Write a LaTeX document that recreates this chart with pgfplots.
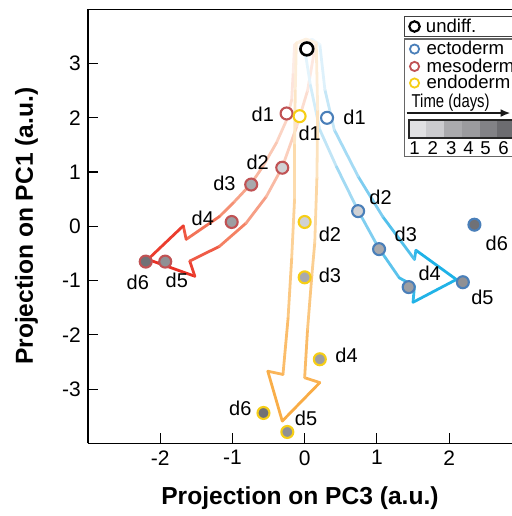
\documentclass[border=0pt]{standalone}
\usepackage{fontspec}
\setmainfont{Liberation Sans}
\usepackage{pgfplots}
\pgfplotsset{compat=1.18}
\usetikzlibrary{arrows.meta}
\definecolor{ectoE}{RGB}{74,127,185}
\definecolor{mesoE}{RGB}{192,82,84}
\definecolor{endoE}{RGB}{246,206,22}
\definecolor{g2}{RGB}{208,209,212}
\definecolor{g3}{RGB}{168,169,173}
\definecolor{g4}{RGB}{157,158,162}
\definecolor{g5}{RGB}{143,144,148}
\definecolor{g6}{RGB}{112,113,118}
\definecolor{c1}{RGB}{224,224,226}
\definecolor{c2}{RGB}{203,203,206}
\definecolor{c3}{RGB}{170,170,173}
\definecolor{c4}{RGB}{155,155,158}
\definecolor{c5}{RGB}{130,130,134}
\definecolor{c6}{RGB}{108,108,112}
\pgfplotsset{
  colormap={mesocm}{rgb255=(254,242,238) rgb255=(250,200,180) rgb255=(244,130,100) rgb255=(232,40,30)},
  colormap={ectocm}{rgb255=(238,248,253) rgb255=(190,228,246) rgb255=(110,200,238) rgb255=(20,175,230)},
  colormap={endocm}{rgb255=(253,242,228) rgb255=(252,218,170) rgb255=(251,195,120) rgb255=(249,168,60)},
  pt/.style 2 args={only marks, mark=*, mark size=3pt, mark options={draw=#1, fill=#2, line width=1.05pt, solid}},
  arr/.style={mesh, point meta=explicit, line width=1.4pt, line cap=round, line join=round},
}
\tikzset{lab/.style={font=\fontsize{10}{12}\selectfont, inner sep=0pt, anchor=center},
  legt/.style={font=\fontsize{9.3}{11}\selectfont, inner sep=0pt, anchor=base west}}
\begin{document}
\begin{tikzpicture}
\begin{axis}[
  name=ax, at={(0,0)}, anchor=south west,
  x=36.15pt, y=27.15pt,
  xmin=-3, xmax=2.87, ymin=-4, ymax=4,
  axis x line*=box, axis y line*=left,
  xtick={-2,...,2}, ytick={-3,...,3},
  xtick pos=left, ytick pos=left,
  tick align=inside, major tick length=5pt,
  tick style={black, line width=0.6pt},
  axis line style={black, line width=0.6pt},
  /pgf/number format/assume math mode=true,
  tick label style={font=\fontsize{10.5}{12}\selectfont},
  xlabel={Projection on PC3 (a.u.)}, ylabel={Projection on PC1 (a.u.)},
  label style={font=\fontsize{12.3}{14}\selectfont\bfseries},
  xlabel style={at={(axis description cs:0.5,-0.126)}, anchor=center},
  ylabel style={at={(axis description cs:-0.1446,0.5)}, anchor=center},
  point meta min=0, point meta max=1,
  clip=false,
]
% arrows
\addplot[arr, colormap name=mesocm] coordinates {
(0.02,3.45) [0] (-0.14,3.35) [0.02] (-0.16,2.8) [0.08] (-0.18,2.33) [0.14] (-0.25,1.96) [0.2]
(-0.39,1.54) [0.28] (-0.58,1.10) [0.38] (-0.75,0.77) [0.46] (-0.99,0.43) [0.56] (-1.18,0.18) [0.64]
(-1.64,-0.24) [0.8] (-1.68,0.01) [0.84] (-2.17,-0.61) [1] (-1.52,-0.92) [0.94] (-1.59,-0.64) [0.88]
(-1.18,-0.37) [0.74] (-0.81,0.06) [0.6] (-0.53,0.55) [0.46] (-0.31,1.09) [0.34] (-0.11,1.84) [0.22]
(0.04,2.5) [0.12] (0.13,3.2) [0.04] (0.16,3.38) [0.02] (0.02,3.45) [0]
};
\addplot[arr, colormap name=ectocm] coordinates {
(0.10,3.45) [0] (-0.01,3.35) [0.02] (0.08,2.6) [0.12] (0.21,1.78) [0.25] (0.44,1.10) [0.38]
(0.74,0.29) [0.52] (1.02,-0.39) [0.66] (1.31,-0.95) [0.8] (1.52,-1.10) [0.86] (1.50,-1.40) [0.9]
(2.10,-0.98) [1] (1.54,-0.44) [0.92] (1.52,-0.61) [0.86] (1.08,0.18) [0.68] (0.74,0.92) [0.52]
(0.41,1.78) [0.35] (0.28,2.52) [0.2] (0.21,3.35) [0.02] (0.10,3.45) [0]
};
\addplot[arr, colormap name=endocm] coordinates {
(0.02,3.45) [0] (-0.115,3.38) [0.02] (-0.13,2.5) [0.12] (-0.14,1.5) [0.25] (-0.14,0.49) [0.38]
(-0.18,-0.6) [0.52] (-0.23,-1.7) [0.66] (-0.30,-2.73) [0.82] (-0.51,-2.67) [0.85] (-0.31,-3.59) [1]
(0.21,-2.88) [0.9] (0.0,-2.79) [0.84] (0.04,-1.9) [0.68] (0.10,-0.9) [0.54] (0.14,-0.30) [0.45]
(0.17,0.9) [0.3] (0.18,2.15) [0.15] (0.16,3.38) [0.02] (0.02,3.45) [0]
};
% undifferentiated
\addplot[only marks, mark=*, mark size=3.2pt, mark options={draw=black, fill=white, line width=1.3pt}] coordinates {(0.03,3.27)};
% mesoderm
\addplot[pt={mesoE}{white}] coordinates {(-0.25,2.08)};
\addplot[pt={mesoE}{g2}] coordinates {(-0.31,1.08)};
\addplot[pt={mesoE}{g3}] coordinates {(-0.74,0.77)};
\addplot[pt={mesoE}{g4}] coordinates {(-1.01,0.08)};
\addplot[pt={mesoE}{g5}] coordinates {(-1.93,-0.65)};
\addplot[pt={mesoE}{g6}] coordinates {(-2.20,-0.65)};
% endoderm
\addplot[pt={endoE}{white}] coordinates {(-0.07,2.03)};
\addplot[pt={endoE}{g2}] coordinates {(0.00,0.08)};
\addplot[pt={endoE}{g3}] coordinates {(0.00,-0.94)};
\addplot[pt={endoE}{g4}] coordinates {(0.21,-2.45)};
\addplot[pt={endoE}{g5}] coordinates {(-0.24,-3.79)};
\addplot[pt={endoE}{g6}] coordinates {(-0.57,-3.44)};
% ectoderm
\addplot[pt={ectoE}{white}] coordinates {(0.31,2.00)};
\addplot[pt={ectoE}{g2}] coordinates {(0.74,0.28)};
\addplot[pt={ectoE}{g3}] coordinates {(1.03,-0.42)};
\addplot[pt={ectoE}{g4}] coordinates {(1.44,-1.12)};
\addplot[pt={ectoE}{g5}] coordinates {(2.19,-1.03)};
\addplot[pt={ectoE}{g6}] coordinates {(2.35,0.03)};
% labels
\node[lab] at (axis cs:-0.58,2.06) {d1};
\node[lab] at (axis cs:0.07,1.72) {d1};
\node[lab] at (axis cs:0.69,2.00) {d1};
\node[lab] at (axis cs:-0.65,1.17) {d2};
\node[lab] at (axis cs:-1.11,0.79) {d3};
\node[lab] at (axis cs:-1.41,0.14) {d4};
\node[lab] at (axis cs:-1.77,-0.99) {d5};
\node[lab] at (axis cs:-2.31,-1.03) {d6};
\node[lab] at (axis cs:0.35,-0.15) {d2};
\node[lab] at (axis cs:0.35,-0.90) {d3};
\node[lab] at (axis cs:0.58,-2.38) {d4};
\node[lab] at (axis cs:0.02,-3.53) {d5};
\node[lab] at (axis cs:-0.89,-3.36) {d6};
\node[lab] at (axis cs:1.05,0.54) {d2};
\node[lab] at (axis cs:1.40,-0.15) {d3};
\node[lab] at (axis cs:1.73,-0.86) {d4};
\node[lab] at (axis cs:2.46,-1.30) {d5};
\node[lab] at (axis cs:2.66,-0.31) {d6};
% legend
\draw[line width=0.6pt, black!75, fill=white] (axis cs:1.383,3.499) rectangle (axis cs:3.2,3.867);
\draw[black, line width=1.1pt] (axis cs:1.521,3.683) circle[radius=2.6pt];
\node[legt] at (axis cs:1.674,3.573) {undiff.};
\draw[line width=0.6pt, black!60, fill=white] (axis cs:1.383,1.289) rectangle (axis cs:3.2,3.451);
\draw[ectoE, line width=0.9pt] (axis cs:1.521,3.267) circle[radius=2.3pt];
\draw[mesoE, line width=0.9pt] (axis cs:1.521,2.947) circle[radius=2.3pt];
\draw[endoE, line width=0.9pt] (axis cs:1.521,2.641) circle[radius=2.3pt];
\node[legt] at (axis cs:1.683,3.162) {ectoderm};
\node[legt] at (axis cs:1.683,2.842) {mesoderm};
\node[legt] at (axis cs:1.683,2.536) {endoderm};
\node[legt, font=\fontsize{9.3}{11}\selectfont] at (axis cs:1.476,2.199) {\scalebox{0.8}[1]{Time (days)}};
\draw[-{Latex[length=5pt,width=4pt]}, line width=1.2pt, black!90] (axis cs:1.411,2.088) -- (axis cs:2.85,2.088);
\fill[c1] (axis cs:1.440,1.628) rectangle (axis cs:1.6855,1.965);
\fill[c2] (axis cs:1.6855,1.628) rectangle (axis cs:1.931,1.965);
\fill[c3] (axis cs:1.931,1.628) rectangle (axis cs:2.1765,1.965);
\fill[c4] (axis cs:2.1765,1.628) rectangle (axis cs:2.422,1.965);
\fill[c5] (axis cs:2.422,1.628) rectangle (axis cs:2.6675,1.965);
\fill[c6] (axis cs:2.6675,1.628) rectangle (axis cs:2.913,1.965);
\draw[line width=0.9pt, black!85] (axis cs:1.440,1.628) rectangle (axis cs:3.2,1.965);
\node[legt, anchor=base] at (axis cs:1.521,1.320) {1};
\node[legt, anchor=base] at (axis cs:1.775,1.320) {2};
\node[legt, anchor=base] at (axis cs:2.029,1.320) {3};
\node[legt, anchor=base] at (axis cs:2.268,1.320) {4};
\node[legt, anchor=base] at (axis cs:2.503,1.320) {5};
\node[legt, anchor=base] at (axis cs:2.752,1.320) {6};
\end{axis}
\pgfresetboundingbox
\useasboundingbox (-44pt,-36.35pt) rectangle (212.2pt,221.85pt);
\end{tikzpicture}
\end{document}
